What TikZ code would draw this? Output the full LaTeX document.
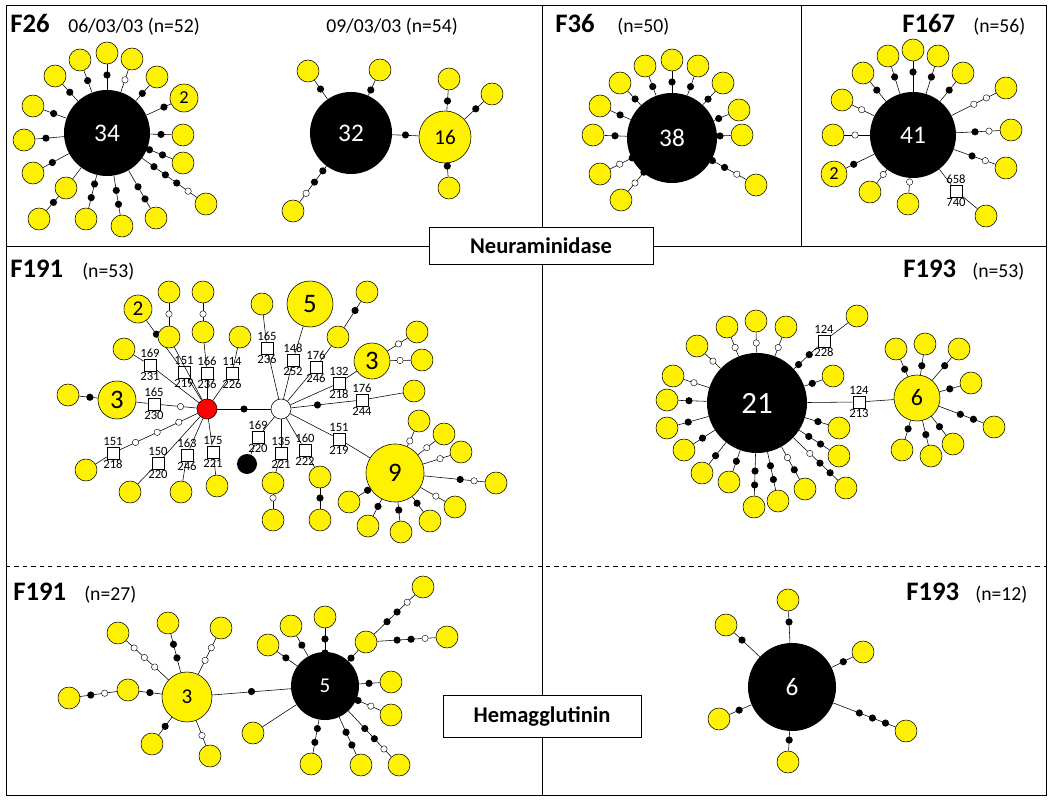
\documentclass[tikz,border=0pt]{standalone}
\usepackage{fontspec}
\setmainfont{Carlito}
\usetikzlibrary{calc,positioning}

\tikzset{
  leaf/.style={circle,draw,fill=yellow,minimum size=0.55cm,inner sep=0pt},
  b/.style={circle,fill=black,minimum size=0.18cm,inner sep=0pt},
  w/.style={circle,draw,fill=white,minimum size=0.16cm,inner sep=0pt,line width=0.3pt},
  n/.style={inner sep=0pt},
  hub/.style={circle,fill=black,text=white,inner sep=0pt,font=\fontsize{18}{18}\selectfont},
  big/.style={circle,draw,fill=yellow,inner sep=0pt,font=\fontsize{19}{19}\selectfont},
  sq/.style={draw,fill=white,minimum size=0.3cm,inner sep=0pt},
  lab/.style={font=\fontsize{9}{9}\selectfont,inner sep=0.5pt},
  ttl/.style={anchor=base west,inner sep=0pt,font=\fontsize{19}{19}\selectfont\bfseries},
  cnt/.style={anchor=base west,inner sep=0pt,font=\fontsize{14}{14}\selectfont},
  gene/.style={draw,fill=white,font=\fontsize{16}{16}\selectfont\bfseries}
}
% leaf on a spoke: [options]{from}{name}{position}{dots, leaf side first}
\newcommand\spk[5][]{%
  \node[leaf,#1] (#3) at (#4) {};
  \draw (#2) -- (#3);
  \foreach \d [count=\k] in {#5}{%
    \pgfmathsetmacro\dd{0.2+\k*0.35}
    \node[\d] at ($(#3)!\dd cm!(#2)$) {};}}
% mutation square with its two positions
\newcommand\mut[4]{\node[sq,label={[lab]above:#3},label={[lab]below:#4}] (#1) at (#2) {};}

\begin{document}
\begin{tikzpicture}[x=0.025cm,y=-0.025cm]
  \useasboundingbox (0,0) rectangle (1053,800);
  % panels
  \draw (6,5) rectangle (1046,795);
  \draw (6,246) -- (1046,246);
  \draw (542,5) -- (542,795);
  \draw (801,5) -- (801,246);
  \draw[dashed] (6,566) -- (1046,566);

  % F26
  \node[ttl] at (10,33) {F26};
  \node[cnt] at (68,33) {06/03/03 (n=52)};
  \node[cnt] at (326,33) {09/03/03 (n=54)};
  \node[hub,minimum size=2.15cm] (h34) at (107,133) {34};
  \spk{h34}{a1}{55,76}{b}
  \spk{h34}{a2}{80,60}{b}
  \spk{h34}{a3}{107,53}{b}
  \spk{h34}{a4}{132,59}{w}
  \spk{h34}{a5}{157,77}{b}
  \spk[minimum size=0.7cm,label={[font=\fontsize{13}{13}\selectfont]center:2}]{h34}{a6}{184,98}{b}
  \spk{h34}{a7}{183,135}{b}
  \spk{h34}{a8}{183,163}{b,b}
  \spk{h34}{a9}{206,204}{w,b,b,b}
  \spk{h34}{a10}{156,218}{b,b}
  \spk{h34}{a11}{122,226}{b,b}
  \spk{h34}{a12}{86,219}{b,b}
  \spk{h34}{a13}{66,188}{n}
  \spk{a13}{a14}{39,219}{b}
  \spk{h34}{a15}{33,173}{b}
  \spk{h34}{a16}{24,140}{b}
  \spk{h34}{a17}{33,106}{b}

  \node[hub,minimum size=2.05cm] (h32) at (351,133) {32};
  \node[big,minimum size=1.3cm,font=\fontsize{15}{15}\selectfont] (y16) at (445,137) {16};
  \draw (h32) -- (y16);
  \node[b] at ($(h32.east)!0.5!(y16.west)$) {};
  \spk{h32}{c1}{308,71}{b}
  \spk{h32}{c2}{380,70}{b}
  \spk{h32}{c3}{293,211}{w,b,b}
  \spk{y16}{c4}{449,79}{b}
  \spk{y16}{c5}{492,94}{b}
  \spk{y16}{c6}{449,188}{b}

  % F36
  \node[ttl] at (555,33) {F36};
  \node[cnt] at (617,33) {(n=50)};
  \node[hub,minimum size=2.25cm] (h38) at (672,138) {38};
  \spk{h38}{d1}{593,135}{b}
  \spk{h38}{d2}{600,106}{b}
  \spk{h38}{d3}{620,83}{b}
  \spk{h38}{d4}{645,66}{b}
  \spk{h38}{d5}{672,60}{b}
  \spk{h38}{d6}{698,66}{b}
  \spk{h38}{d7}{723,83}{b}
  \spk{h38}{d8}{739,110}{b}
  \spk{h38}{d9}{742,135}{b}
  \spk{h38}{d10}{600,174}{w,b}
  \spk{h38}{d11}{621,200}{w,b}
  \spk{h38}{d12}{756,185}{w,b,b}

  % F167
  \node[ttl] at (902,33) {F167};
  \node[cnt] at (973,33) {(n=56)};
  \node[hub,minimum size=2.15cm] (h41) at (913,135) {41};
  \spk{h41}{e1}{833,135}{w}
  \spk{h41}{e2}{842,100}{w}
  \spk{h41}{e3}{863,73}{b}
  \spk{h41}{e4}{888,56}{b}
  \spk{h41}{e5}{913,50}{b}
  \spk{h41}{e6}{938,56}{b}
  \spk{h41}{e7}{963,73}{b}
  \spk{h41}{e8}{1006,88}{w,w}
  \spk{h41}{e9}{1011,130}{w,b}
  \spk{h41}{e10}{1006,168}{w,b}
  \spk[minimum size=0.65cm,label={[font=\fontsize{13}{13}\selectfont]center:2}]{h41}{e11}{834,174}{b}
  \spk{h41}{e12}{870,192}{w}
  \spk{h41}{e13}{908,204}{w}
  \mut{q1}{956,191}{658}{740}
  \draw (h41) -- (q1);
  \spk{q1}{e14}{986,216}{n}

  % F191 neuraminidase
  \node[ttl] at (10,278) {F191};
  \node[cnt] at (82,278) {(n=53)};
  \node[circle,draw,fill=red,minimum size=0.5cm] (red) at (207,409) {};
  \node[circle,draw,fill=white,minimum size=0.5cm] (wht) at (281,409) {};
  \node[circle,fill=black,minimum size=0.5cm] (blk) at (247,464) {};
  \draw (red) -- (wht);
  \node[b] at ($(red)!0.5!(wht)$) {};
  \mut{s1}{150,365}{169}{231}
  \mut{s2}{154,404}{165}{230}
  \mut{s3}{184,372}{151}{219}
  \mut{s4}{207,373}{166}{236}
  \mut{s5}{232,373}{114}{226}
  \mut{s6}{113,453}{151}{218}
  \mut{s7}{158,463}{150}{220}
  \mut{s8}{187,455}{163}{246}
  \mut{s9}{213,452}{175}{221}
  \mut{s10}{267,348}{165}{236}
  \mut{s11}{293,360}{148}{252}
  \mut{s12}{316,367}{176}{246}
  \mut{s13}{339,383}{132}{218}
  \mut{s14}{362,400}{176}{244}
  \mut{s15}{339,439}{151}{219}
  \mut{s16}{258,437}{169}{220}
  \mut{s17}{281,453}{135}{221}
  \mut{s18}{305,450}{160}{222}
  \node[big,minimum size=0.95cm] (f2) at (117,400) {3};
  \node[big,minimum size=0.7cm,font=\fontsize{15}{15}\selectfont] (f4) at (138,309) {2};
  \node[big,minimum size=1.15cm] (f15) at (310,304) {5};
  \node[big,minimum size=0.9cm] (f18) at (372,361) {3};
  \node[big,minimum size=1.45cm] (f22) at (395,473) {9};
  \draw (red) -- (s1); \spk{s1}{f1}{124,349}{n}
  \draw (red) -- (s2) -- (f2);
  \node[w] at ($(red)!0.5!(s2)$) {};
  \spk{f2}{f3}{68,395}{b}
  \draw (red) -- (s3) -- (f4);
  \node[b] at ($(s3)!0.6!(f4)$) {};
  \spk{red}{f5}{169,337}{n}
  \spk{f5}{f6}{169,292}{w}
  \draw (red) -- (s4); \spk{s4}{f7}{203,332}{n}
  \spk{f7}{f8}{203,292}{w}
  \draw (red) -- (s5); \spk{s5}{f9}{240,337}{n}
  \draw (red) -- (s6); \spk{s6}{f10}{86,470}{n}
  \foreach \t in {0.3,0.53,0.76} {\node[w] at ($(red)!\t!(s6)$) {};}
  \draw (red) -- (s7); \spk{s7}{f11}{130,492}{n}
  \draw (red) -- (s8); \spk{s8}{f12}{181,492}{n}
  \draw (red) -- (s9); \spk{s9}{f13}{217,486}{n}
  \draw (wht) -- (s10); \spk{s10}{f14}{262,304}{n}
  \draw (wht) -- (s11) -- (f15);
  \draw (wht) -- (s12); \spk{s12}{f16}{338,337}{n}
  \spk{f16}{f17}{367,292}{b}
  \draw (wht) -- (s13) -- (f18);
  \spk{f18}{f19}{417,332}{w}
  \spk{f18}{f20}{422,360}{w}
  \draw (wht) -- (s14); \spk{s14}{f21}{414,391}{n}
  \node[b] at ($(wht)!0.45!(s14)$) {};
  \draw (wht) -- (s15) -- (f22);
  \spk{f22}{g1}{419,421}{w}
  \spk{f22}{g2}{444,434}{w}
  \spk{f22}{g3}{461,452}{w}
  \spk{f22}{g4}{496,483}{w,b}
  \spk{f22}{g5}{455,507}{w}
  \spk{f22}{g6}{430,521}{b}
  \spk{f22}{g7}{401,532}{b}
  \spk{f22}{g8}{368,526}{b}
  \spk{f22}{g9}{349,502}{b}
  \draw (wht) -- (s16) -- (blk);
  \draw (wht) -- (s17); \spk{s17}{f23}{273,483}{n}
  \spk{f23}{f24}{273,520}{w}
  \draw (wht) -- (s18); \spk{s18}{f25}{320,477}{n}
  \spk{f25}{f26}{320,520}{b}

  % F193 neuraminidase
  \node[ttl] at (903,278) {F193};
  \node[cnt] at (972,278) {(n=53)};
  \node[hub,minimum size=2.5cm,font=\fontsize{22}{22}\selectfont] (h21) at (757,403) {21};
  \node[big,minimum size=1.15cm,font=\fontsize{17}{17}\selectfont] (y6) at (917,398) {6};
  \mut{t0}{859,402}{124}{213}
  \draw (h21) -- (t0) -- (y6);
  \mut{t1}{824,341}{124}{228}
  \draw (h21) -- (t1);
  \node[b] at ($(h21)!0.62!(t1)$) {};
  \node[b] at ($(h21)!0.78!(t1)$) {};
  \spk{t1}{k1}{857,316}{n}
  \spk{h21}{k2}{833,376}{b}
  \spk{h21}{k3}{839,428}{b}
  \spk{h21}{k4}{839,456}{b,b}
  \spk{h21}{k5}{846,488}{b,b,w}
  \spk{h21}{k6}{805,489}{b,w}
  \spk{h21}{k7}{778,501}{b,b}
  \spk{h21}{k8}{754,507}{b,b}
  \spk{h21}{k9}{729,482}{b}
  \spk{h21}{k10}{702,473}{b}
  \spk{h21}{k11}{684,450}{b}
  \spk{h21}{k12}{667,428}{b}
  \spk{h21}{k13}{667,400}{b}
  \spk{h21}{k14}{673,376}{w}
  \spk{h21}{k15}{697,346}{w}
  \spk{h21}{k16}{727,327}{w}
  \spk{h21}{k17}{756,321}{w}
  \spk{h21}{k18}{786,327}{w}
  \spk{y6}{m1}{896,349}{b}
  \spk{y6}{m2}{925,344}{b}
  \spk{y6}{m3}{959,349}{b}
  \spk{y6}{m4}{971,383}{b}
  \spk{y6}{m5}{994,427}{b,b}
  \spk{y6}{m6}{953,444}{b}
  \spk{y6}{m7}{931,456}{b}
  \spk{y6}{m8}{902,450}{b}

  % F191 hemagglutinin
  \node[ttl] at (13,600) {F191};
  \node[cnt] at (84,600) {(n=27)};
  \node[big,minimum size=1.25cm,font=\fontsize{15}{15}\selectfont] (y3) at (187,697) {3};
  \node[hub,minimum size=1.7cm,font=\fontsize{15}{15}\selectfont] (h5) at (325,686) {5};
  \draw (y3) -- (h5);
  \node[b] at ($(y3.east)!0.5!(h5.west)$) {};
  \spk{y3}{n1}{128,690}{b}
  \spk{n1}{n2}{69,698}{b,w}
  \spk{y3}{n3}{118,633}{w,w,w}
  \spk{y3}{n4}{168,623}{b,b}
  \spk{y3}{n5}{221,628}{w,w}
  \spk{y3}{n6}{152,744}{b}
  \spk{y3}{n7}{210,756}{w}
  \spk{h5}{o1}{268,645}{b}
  \spk{h5}{o2}{291,626}{b}
  \spk{h5}{o3}{325,617}{b,b}
  \spk{h5}{o4}{366,642}{b}
  \spk{o4}{o5}{423,587}{w,b,b}
  \spk{o4}{o6}{447,637}{w,b,b}
  \spk{h5}{o7}{391,682}{b}
  \spk{h5}{o8}{391,715}{w,b}
  \spk{h5}{o9}{399,765}{w,b,b}
  \spk{h5}{o10}{361,765}{b,b}
  \spk{h5}{o11}{311,764}{b,b}
  \spk{h5}{o12}{253,733}{n}

  % F193 hemagglutinin
  \node[ttl] at (906,600) {F193};
  \node[cnt] at (975,600) {(n=12)};
  \node[hub,minimum size=2.2cm] (h6) at (792,687) {6};
  \spk{h6}{p1}{788,600}{b}
  \spk{h6}{p2}{726,625}{b}
  \spk{h6}{p3}{863,652}{b}
  \spk{h6}{p4}{719,719}{b}
  \spk{h6}{p5}{906,731}{b,b,b}
  \spk{h6}{p6}{788,762}{b}

  % gene boxes
  \node[gene,minimum width=5.6cm,minimum height=0.92cm] (na) at (541,246) {Neuraminidase};
  \node[gene,minimum width=4.95cm,minimum height=1.05cm] (ha) at (542,716) {Hemagglutinin};
\end{tikzpicture}
\end{document}
